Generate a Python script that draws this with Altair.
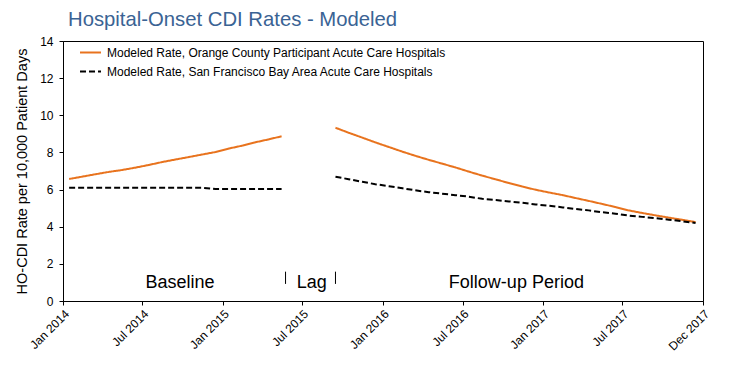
import altair as alt
import pandas as pd

ORANGE = "#E8731E"
TITLE_BLUE = "#3A6394"
FONT = "Liberation Sans"

orange_name = "Modeled Rate, Orange County Participant Acute Care Hospitals"
sf_name = "Modeled Rate, San Francisco Bay Area Acute Care Hospitals"

baseline_months = ["2014-01", "2014-02", "2014-03", "2014-04", "2014-05", "2014-06",
                   "2014-07", "2014-08", "2014-09", "2014-10", "2014-11", "2014-12",
                   "2015-01", "2015-02", "2015-03", "2015-04", "2015-05"]
followup_months = ["2015-09", "2015-10", "2015-11", "2015-12",
                   "2016-01", "2016-02", "2016-03", "2016-04", "2016-05", "2016-06",
                   "2016-07", "2016-08", "2016-09", "2016-10", "2016-11", "2016-12",
                   "2017-01", "2017-02", "2017-03", "2017-04", "2017-05", "2017-06",
                   "2017-07", "2017-08", "2017-09", "2017-10", "2017-11", "2017-12"]

orange_baseline = [6.57, 6.70, 6.82, 6.95, 7.05, 7.18, 7.32, 7.48, 7.62, 7.75, 7.89,
                   8.02, 8.21, 8.37, 8.54, 8.70, 8.87]
sf_baseline = [6.10, 6.10, 6.10, 6.10, 6.10, 6.10, 6.10, 6.10, 6.10, 6.10, 6.10,
               6.03, 6.03, 6.03, 6.03, 6.03, 6.03]
orange_followup = [9.33, 9.06, 8.80, 8.54, 8.29, 8.04, 7.82, 7.60, 7.40, 7.19,
                   6.97, 6.75, 6.55, 6.35, 6.16, 5.99, 5.84, 5.70, 5.55, 5.39,
                   5.23, 5.06, 4.88, 4.74, 4.61, 4.49, 4.37, 4.25]
sf_followup = [6.69, 6.56, 6.42, 6.29, 6.18, 6.07, 5.96, 5.86, 5.78, 5.70,
               5.62, 5.50, 5.44, 5.36, 5.29, 5.20, 5.13, 5.04, 4.96, 4.88,
               4.78, 4.70, 4.60, 4.53, 4.46, 4.38, 4.29, 4.20]

tick_years_months = [(2014, 1), (2014, 7), (2015, 1), (2015, 7), (2016, 1),
                     (2016, 7), (2017, 1), (2017, 7), (2018, 1)]

anno_labels = ["Baseline", "Lag", "Follow-up Period"]
anno_dates = ["2014-09-25", "2015-07-23", "2016-11-01"]
anno_value = 0.68
lag_mark_dates = ["2015-05-24", "2015-09-15"]
lag_mark_low, lag_mark_high = 0.92, 1.58

rows = []
for months, vals, series, period in [
    (baseline_months, orange_baseline, orange_name, "baseline"),
    (baseline_months, sf_baseline, sf_name, "baseline"),
    (followup_months, orange_followup, orange_name, "followup"),
    (followup_months, sf_followup, sf_name, "followup"),
]:
    for m, v in zip(months, vals):
        rows.append({"date": m + "-15", "value": v, "series": series, "period": period})
df = pd.DataFrame(rows)

anno_df = pd.DataFrame({"date": anno_dates, "label": anno_labels, "value": [anno_value] * 3})
lag_df = pd.DataFrame({"date": lag_mark_dates, "value": [lag_mark_low] * 2, "hi": [lag_mark_high] * 2})

x_scale = alt.Scale(domain=[alt.DateTime(year=2014, month=1, date=1, utc=True),
                            alt.DateTime(year=2018, month=1, date=1, utc=True)])
y_scale = alt.Scale(domain=[0, 14])

x_axis = alt.Axis(values=[alt.DateTime(year=y, month=m, date=1, utc=True)
                          for y, m in tick_years_months],
                  labelExpr="utcyear(datum.value) >= 2018 ? 'Dec 2017' : utcFormat(datum.value, '%b %Y')",
                  labelAngle=315, labelPadding=3, grid=False)
y_axis = alt.Axis(values=list(range(0, 15, 2)), titleX=-40.5, titleY=130,
                  titleAngle=270, titleAlign="center", titleBaseline="middle", grid=False)
Y_TITLE = "HO-CDI Rate per 10,000 Patient Days"


def x_enc():
    return alt.X("date:T", scale=x_scale, title=None, axis=x_axis)


def y_enc():
    return alt.Y("value:Q", scale=y_scale, title=Y_TITLE, axis=y_axis)


lines = alt.Chart(df).mark_line(strokeWidth=2).encode(
    x=x_enc(),
    y=y_enc(),
    color=alt.Color("series:N", title=None,
                    scale=alt.Scale(domain=[orange_name, sf_name], range=[ORANGE, "black"])),
    strokeDash=alt.StrokeDash("series:N", title=None,
                              scale=alt.Scale(domain=[orange_name, sf_name], range=[[1, 0], [6, 3]])),
    detail="period:N",
)

anno = alt.Chart(anno_df).mark_text(font=FONT, fontSize=18, color="black",
                                     align="center", baseline="alphabetic").encode(
    x=x_enc(), y=y_enc(), text="label:N")

lag_marks = alt.Chart(lag_df).mark_rule(color="black", strokeWidth=1).encode(
    x=x_enc(), y=y_enc(), y2="hi:Q")

chart = alt.layer(lines, anno, lag_marks).properties(
    width=640, height=260,
    autosize=alt.AutoSizeParams(type="none"),
    padding={"left": 55, "top": 33, "right": 15, "bottom": 82},
    background="white",
    title=alt.TitleParams("Hospital-Onset CDI Rates - Modeled", anchor="start", frame="group",
                          dx=5, dy=22, offset=11, baseline="alphabetic", font=FONT, fontSize=20.3,
                          fontWeight="normal", color=TITLE_BLUE),
).configure_view(stroke="black", strokeWidth=1).configure_axis(
    grid=False, labelFont=FONT, labelFontSize=12, labelColor="black",
    domainColor="black", tickColor="black", tickSize=4, labelPadding=6,
    titleFont=FONT, titleFontSize=14.5, titleFontWeight="normal", titleColor="black",
).configure_legend(
    orient="none", legendX=16, legendY=0, padding=0, symbolType="stroke",
    symbolSize=440, symbolStrokeWidth=2, labelFont=FONT, labelFontSize=12,
    labelColor="black", labelOffset=5, rowPadding=1, labelLimit=0,
)

chart.save("out.html", embed_options={"renderer": "svg", "actions": False})
